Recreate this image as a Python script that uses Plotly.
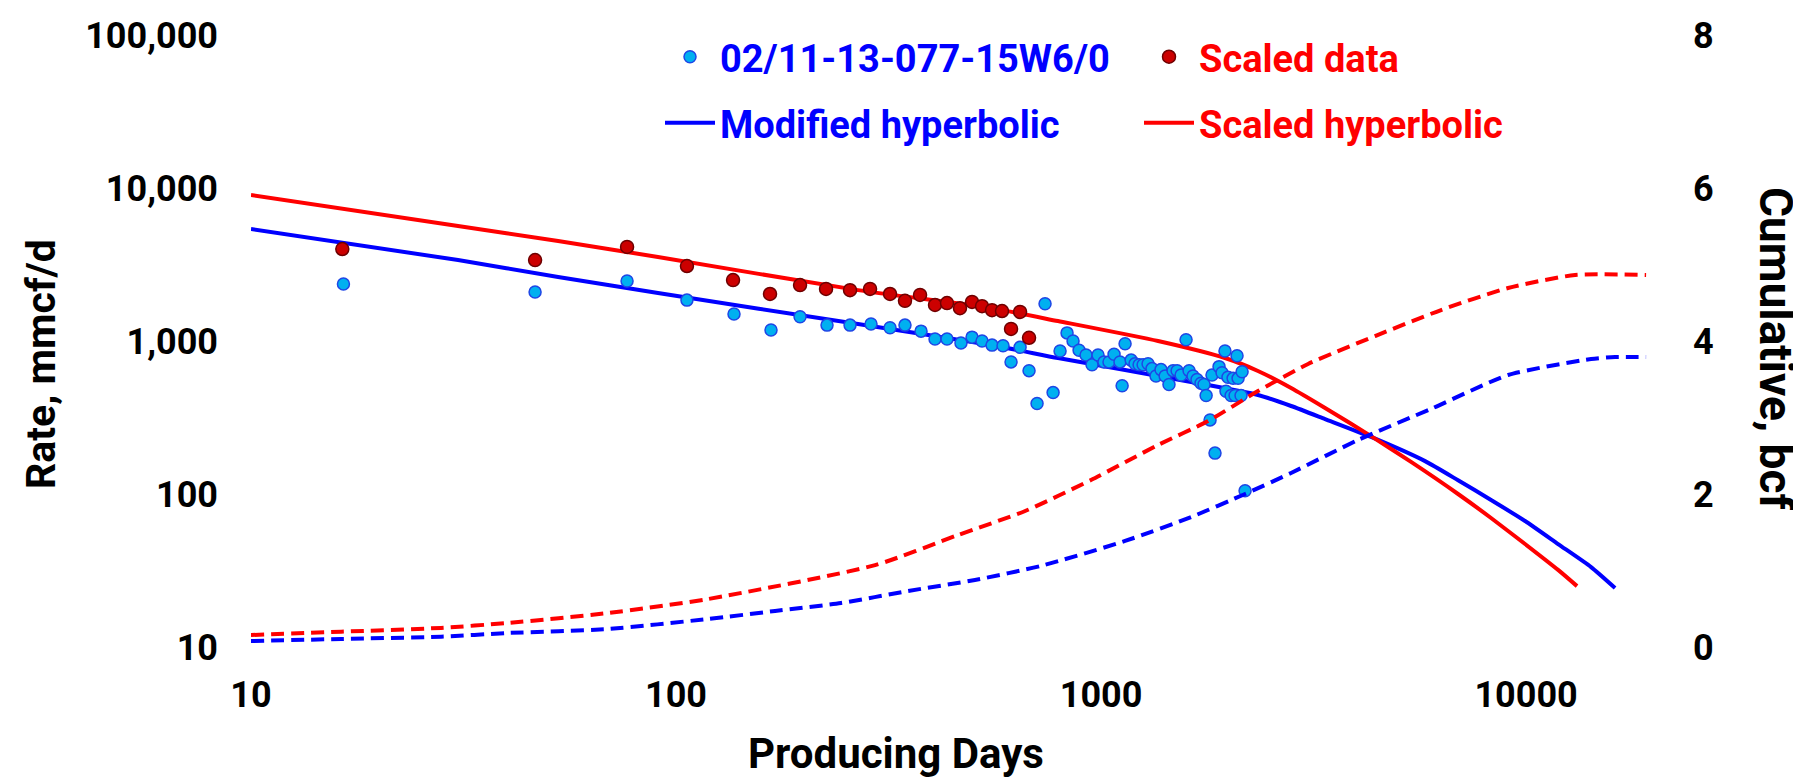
import plotly.graph_objects as go

# ---------------- data ----------------
well_days = [16.5, 46.6, 76.7, 106.1, 136.9, 167.3, 195.8, 226.6, 256.7, 287.6,
             318.8, 345.7, 377.1, 406.8, 434.1, 468.2, 497.1, 524.8, 554.0, 588.0,
             614.1, 644.9, 677.0, 707.0, 738.3, 771.2, 800.9, 831.8, 859.3, 887.8,
             922.0, 952.3, 983.8, 1016, 1044, 1073, 1108, 1121, 1139, 1177,
             1202, 1229, 1256, 1290, 1318, 1347, 1384, 1415, 1445, 1477,
             1510, 1543, 1585, 1611, 1646, 1682, 1719, 1747, 1767, 1805,
             1824, 1854, 1895, 1926, 1957, 1968, 1989, 2023, 2045, 2067,
             2089, 2101, 2135, 2147, 2182]
well_rate = [2360, 2090, 2470, 1850, 1500, 1180, 1440, 1270, 1270, 1290,
             1220, 1270, 1160, 1030, 1030, 970, 1060, 1000, 940, 930,
             730, 910, 640, 390, 1750, 460, 860, 1130, 1000, 870,
             810, 700, 810, 730, 730, 820, 730, 510, 960, 750,
             710, 700, 700, 710, 660, 590, 650, 590, 520, 640,
             640, 600, 1020, 640, 590, 560, 530, 520, 440, 305,
             600, 185, 680, 620, 860, 470, 580, 440, 570, 440,
             800, 570, 440, 630, 105]

scaled_days = [16.4, 46.6, 76.7, 106.1, 136.2, 166.4, 195.8, 225.4, 256.7, 286.1,
               318.8, 345.7, 375.1, 406.8, 434.1, 465.7, 497.1, 524.8, 554.0, 584.8,
               614.1, 644.9, 677.0]
scaled_rate = [3990, 3380, 4120, 3090, 2500, 2030, 2320, 2190, 2150, 2190,
               2030, 1830, 2000, 1720, 1770, 1640, 1800, 1690, 1590, 1570,
               1200, 1550, 1050]

mod_hyp_days = [10, 30.7, 52.8, 90.7, 268, 551, 792, 1139, 1629, 2340, 2800, 3366,
                4318, 5786, 6918, 8272, 9945, 11894, 14221, 16196]
mod_hyp_rate = [5395, 3383, 2620, 2059, 1291, 942, 774, 646, 540, 444, 376, 309,
                236, 164, 123, 91.4, 66.6, 47.1, 33.3, 24.3]

scl_hyp_days = [10, 30.7, 52.8, 90.7, 268, 551, 792, 1362, 1957, 2340, 2800, 3366,
                4318, 5363, 6918, 8272, 9945, 11894, 13180]
scl_hyp_rate = [9000, 5640, 4500, 3540, 2150, 1640, 1350, 1000, 774, 637, 493, 365,
                239, 162, 100, 69.7, 47.1, 31.9, 25.0]

mod_cum_days = [10, 16.3, 28, 40.2, 69.2, 118.9, 171, 244.5, 351.6, 505, 723,
                1139, 1629, 2182, 2800, 4024, 6042, 9071, 14221, 16196, 19160]
mod_cum_bcf = [0.078, 0.105, 0.135, 0.183, 0.235, 0.366, 0.471, 0.575, 0.732, 0.876,
               1.061, 1.386, 1.699, 2.0, 2.275, 2.706, 3.124, 3.556, 3.765,
               3.79, 3.791]

scl_cum_days = [10, 16.3, 28, 40.2, 69.2, 118.9, 294, 461, 663, 947, 1362, 1786,
                2340, 3070, 4413, 6310, 9071, 13040, 19160]
scl_cum_bcf = [0.157, 0.2, 0.25, 0.314, 0.444, 0.627, 1.07, 1.464, 1.778, 2.183,
               2.641, 2.954, 3.346, 3.70, 4.065, 4.405, 4.693, 4.863, 4.863]

x_ticks = [10, 100, 1000, 10000]
x_tick_text = ["10", "100", "1000", "10000"]
y_ticks = [10, 100, 1000, 10000, 100000]
y_tick_text = ["10", "100", "1,000", "10,000", "100,000"]
y2_ticks = [0, 2, 4, 6, 8]

# ---------------- styling ----------------
W, H = 1801, 784
L, R, T, B = 243, 155, 27, 145
PW, PH = W - L - R, H - T - B
FONT = "Roboto"
BLUE = "#0000FF"
RED = "#FF0000"
DASH = "13px,7px"


def px_x(p):
    return (p - L) / PW


def px_y(p):
    return (H - B - p) / PH


fig = go.Figure()

fig.add_trace(go.Scatter(
    x=mod_hyp_days, y=mod_hyp_rate, mode="lines", line_shape="spline",
    line=dict(color=BLUE, width=4, smoothing=0.6),
    name="<span style='color:#0000FF'>Modified hyperbolic</span>", legend="legend3"))
fig.add_trace(go.Scatter(
    x=scl_hyp_days, y=scl_hyp_rate, mode="lines", line_shape="spline",
    line=dict(color=RED, width=4, smoothing=0.6),
    name="<span style='color:#FF0000'>Scaled hyperbolic</span>", legend="legend4"))
fig.add_trace(go.Scatter(
    x=well_days, y=well_rate, mode="markers",
    marker=dict(size=12, color="#00B0F0", line=dict(color="#1E46E6", width=1.5)),
    name="<span style='color:#0000FF'>02/11-13-077-15W6/0</span>", legend="legend"))
fig.add_trace(go.Scatter(
    x=scaled_days, y=scaled_rate, mode="markers",
    marker=dict(size=13, color="#CC0000", line=dict(color="#6E0000", width=1.5)),
    name="<span style='color:#FF0000'>Scaled data</span>", legend="legend2"))
fig.add_trace(go.Scatter(
    x=mod_cum_days, y=mod_cum_bcf, mode="lines", yaxis="y2", line_shape="spline",
    line=dict(color=BLUE, width=4, dash=DASH, smoothing=0.6), showlegend=False))
fig.add_trace(go.Scatter(
    x=scl_cum_days, y=scl_cum_bcf, mode="lines", yaxis="y2", line_shape="spline",
    line=dict(color=RED, width=4, dash=DASH, smoothing=0.6), showlegend=False))

tickfont = dict(family=FONT, size=36, color="black", weight="bold")
legfont = dict(family=FONT, size=38, color="black", weight="bold")


def leg(xpx, ypx):
    return dict(orientation="h", xref="paper", yref="paper",
                x=px_x(xpx), y=px_y(ypx), xanchor="left", yanchor="middle",
                font=legfont, bgcolor="rgba(0,0,0,0)", itemwidth=50,
                borderwidth=0)


fig.update_layout(
    width=W, height=H, autosize=False,
    margin=dict(l=L, r=R, t=T, b=B, autoexpand=False),
    plot_bgcolor="white", paper_bgcolor="white",
    showlegend=True,
    legend=leg(652, 49), legend2=leg(1131, 49),
    legend3=leg(652, 115), legend4=leg(1131, 115),
    xaxis=dict(type="log", range=[1, 4.301], tickvals=x_ticks, ticktext=x_tick_text,
               showgrid=False, zeroline=False, showline=False, ticks="",
               tickfont=tickfont, ticklabelstandoff=23, automargin=False),
    yaxis=dict(type="log", range=[1, 5], tickvals=y_ticks, ticktext=y_tick_text,
               showgrid=False, zeroline=False, showline=False, ticks="",
               tickfont=tickfont, ticklabelstandoff=32, automargin=False),
    yaxis2=dict(overlaying="y", side="right", range=[0, 8], tickvals=y2_ticks,
                showgrid=False, zeroline=False, showline=False, ticks="",
                tickfont=tickfont, ticklabelstandoff=38, automargin=False),
    annotations=[
        dict(text="Rate, mmcf/d", xref="paper", yref="paper", x=px_x(33), y=px_y(356),
             xanchor="center", yanchor="middle", textangle=-90, showarrow=False,
             font=dict(family=FONT, size=41, color="black", weight="bold")),
        dict(text="Cumulative, bcf", xref="paper", yref="paper", x=px_x(1768), y=px_y(340),
             xanchor="center", yanchor="middle", textangle=90, showarrow=False,
             font=dict(family=FONT, size=46, color="black", weight="bold")),
        dict(text="Producing Days", xref="paper", yref="paper", x=px_x(888), y=px_y(745),
             xanchor="center", yanchor="middle", showarrow=False,
             font=dict(family=FONT, size=42, color="black", weight="bold")),
    ],
)

fig.write_html("out.html")
